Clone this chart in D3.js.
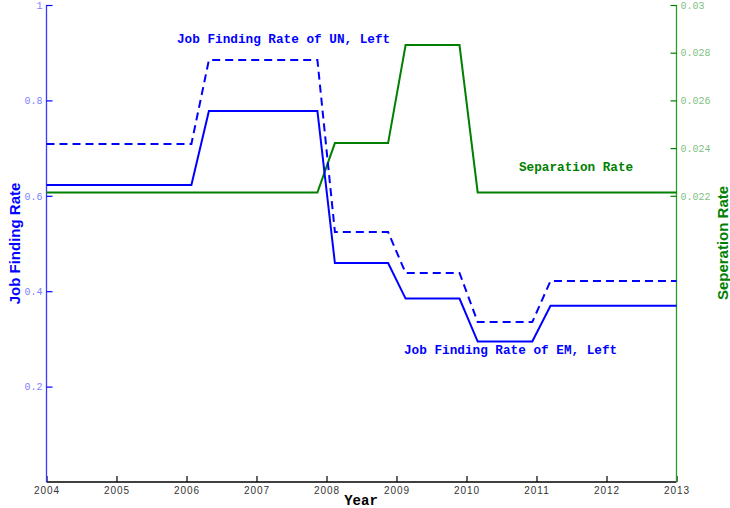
<!DOCTYPE html>
<html>
<head>
<meta charset="utf-8">
<script src="https://cdn.jsdelivr.net/npm/d3@7"></script>
<style>
  html, body { margin: 0; padding: 0; background: #fff; }
  svg { display: block; }
</style>
</head>
<body>
<svg id="chart" width="730" height="508"></svg>
<script>
// ---- data ----
const years   = [2004, 2006.07, 2006.32, 2007.87, 2008.12, 2008.88, 2009.13, 2009.9, 2010.16, 2010.94, 2011.2, 2013];
const emRate  = [0.6226, 0.6226, 0.7778, 0.7778, 0.4591, 0.4591, 0.3845, 0.3845, 0.2945, 0.2945, 0.3695, 0.3695];
const unRate  = [0.7086, 0.7086, 0.8847, 0.8847, 0.5241, 0.5241, 0.4382, 0.4382, 0.3354, 0.3354, 0.4214, 0.4214];
const sepRate = [0.02214, 0.02214, 0.02214, 0.02214, 0.02421, 0.02421, 0.02832, 0.02832, 0.02214, 0.02214, 0.02214, 0.02214];
const xTicks  = [2004, 2005, 2006, 2007, 2008, 2009, 2010, 2011, 2012, 2013];
const leftTicks  = [0.2, 0.4, 0.6, 0.8, 1];
const rightTicks = [0.022, 0.024, 0.026, 0.028, 0.03];

const svg = d3.select("#chart");
const x  = d3.scaleLinear().domain([2004, 2013]).range([46.5, 676.5]);
const yL = d3.scaleLinear().domain([0, 1]).range([482, 5]);
const yR = d3.scaleLinear().domain([0.01, 0.03]).range([482, 5]);

const BLUE = "#0000ff", GREEN = "#008000";
const mono = "'Liberation Mono', 'DejaVu Sans Mono', monospace";

// axes
const gx = svg.append("g").attr("transform", "translate(0,482)")
  .call(d3.axisTop(x).tickValues(xTicks).tickFormat(d3.format("d")).tickSize(6).tickPadding(0));
gx.select(".domain").attr("stroke", "#000").attr("stroke-width", 1.3).attr("d", "M46.5,0H676.5");
gx.selectAll(".tick line").attr("stroke", "#000").attr("stroke-width", 1.2);
gx.selectAll(".tick text").attr("y", 12).attr("dy", 0)
  .attr("fill", "#333").style("font-family", "'Liberation Sans', Arial, sans-serif")
  .style("font-size", "10px").style("letter-spacing", "1px");

const gl = svg.append("g").attr("transform", "translate(46.5,0)")
  .call(d3.axisRight(yL).tickValues(leftTicks).tickFormat(d => d === 1 ? "1" : d3.format(".1f")(d)).tickSize(6));
gl.select(".domain").attr("stroke", "#3a3aff").attr("stroke-width", 1.3).attr("d", "M0,5V482");
gl.selectAll(".tick line").attr("stroke", BLUE).attr("stroke-width", 1.2);
gl.selectAll(".tick text").attr("x", -4).attr("text-anchor", "end")
  .attr("fill", "#8080ff").style("font-family", mono).style("font-size", "10px");

const gr = svg.append("g").attr("transform", "translate(676.5,0)")
  .call(d3.axisLeft(yR).tickValues(rightTicks).tickFormat(d => d === 0.03 ? "0.03" : d3.format(".3f")(d)).tickSize(6));
gr.select(".domain").attr("stroke", "#2a9a2a").attr("stroke-width", 1.3).attr("d", "M0,5V482");
gr.selectAll(".tick line").attr("stroke", GREEN).attr("stroke-width", 1.2);
gr.selectAll(".tick text").attr("x", 4).attr("text-anchor", "start")
  .attr("fill", "#7fbf7f").style("font-family", mono).style("font-size", "10px");

// lines
const lineL = d3.line().x((d, i) => x(years[i])).y(d => yL(d));
const lineR = d3.line().x((d, i) => x(years[i])).y(d => yR(d));

svg.append("path").attr("d", lineR(sepRate)).attr("fill", "none")
  .attr("stroke", GREEN).attr("stroke-width", 2);
svg.append("path").attr("d", lineL(unRate)).attr("fill", "none")
  .attr("stroke", BLUE).attr("stroke-width", 2).attr("stroke-dasharray", "8,5");
svg.append("path").attr("d", lineL(emRate)).attr("fill", "none")
  .attr("stroke", BLUE).attr("stroke-width", 2);

// annotations
function note(txt, xx, yy, col) {
  svg.append("text").attr("x", xx).attr("y", yy).text(txt)
    .attr("fill", col).style("font-family", mono).style("font-weight", "bold")
    .style("font-size", "12.7px");
}
note("Job Finding Rate of UN, Left", 177, 43, BLUE);
note("Separation Rate", 519, 171, GREEN);
note("Job Finding Rate of EM, Left", 404, 354, BLUE);

// axis titles
svg.append("text").attr("x", 361).attr("y", 505).attr("text-anchor", "middle")
  .text("Year").style("font-family", mono).style("font-weight", "bold").style("font-size", "14px").attr("fill", "#000");
svg.append("text").attr("transform", "translate(19.5,243.5) rotate(-90)").attr("text-anchor", "middle")
  .text("Job Finding Rate").attr("fill", BLUE)
  .style("font-family", "'Liberation Sans', Arial, sans-serif").style("font-weight", "bold").style("font-size", "15px");
svg.append("text").attr("transform", "translate(728,243) rotate(-90)").attr("text-anchor", "middle")
  .text("Seperation Rate").attr("fill", GREEN)
  .style("font-family", "'Liberation Sans', Arial, sans-serif").style("font-weight", "bold").style("font-size", "15px");
</script>
</body>
</html>
